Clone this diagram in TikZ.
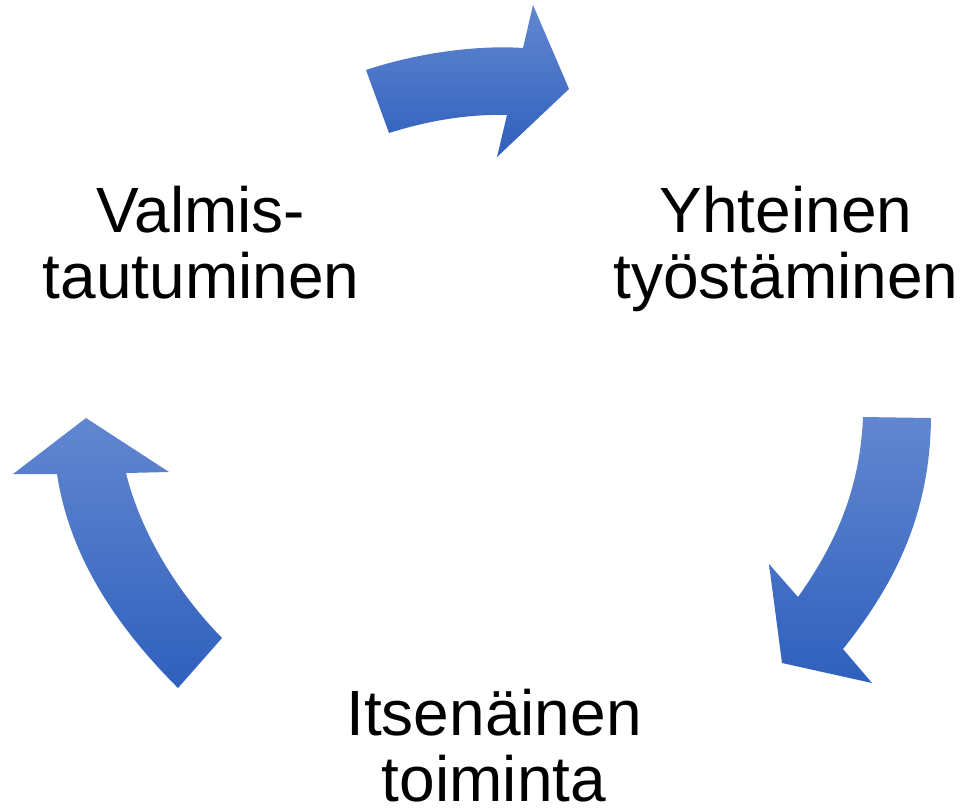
\documentclass[tikz,border=0pt]{standalone}
\usepackage{fontspec}
\setmainfont{Liberation Sans}
\definecolor{arrtop}{RGB}{98,135,208}
\definecolor{arrbot}{RGB}{47,96,189}
\tikzset{
  cyclearrow/.style={top color=arrtop, bottom color=arrbot, draw=none},
  steplabel/.style={align=center, inner sep=0pt, anchor=base, font=\fontsize{64}{66}\selectfont}
}
\begin{document}
\begin{tikzpicture}[x=1pt,y=-1pt]
\useasboundingbox (0,0) rectangle (963,807);
% top arrow
\path[cyclearrow] (366,70) .. controls (420,52) and (480,45) .. (523,48)
  -- (533,5) -- (569,89) -- (497,157) -- (507,115)
  .. controls (470,114) and (430,120) .. (389,133) -- cycle;
% right arrow
\path[cyclearrow] (863,417) -- (931,418)
  .. controls (930,520) and (890,590) .. (843,649)
  -- (872,683) -- (782,663) -- (769,564) -- (798,597)
  .. controls (835,545) and (860,490) .. (863,417) -- cycle;
% left arrow
\path[cyclearrow] (86,418) -- (169,472) -- (126,473)
  .. controls (140,530) and (175,590) .. (222,638)
  -- (178,688)
  .. controls (120,630) and (70,560) .. (57,474)
  -- (13,474) -- cycle;
\node[steplabel] (prep) at (201,298) {Valmis-\\tautuminen};
\node[steplabel] (joint) at (786,298) {Yhteinen\\työstäminen};
\node[steplabel] (indep) at (494,801) {Itsenäinen\\toiminta};
\end{tikzpicture}
\end{document}
